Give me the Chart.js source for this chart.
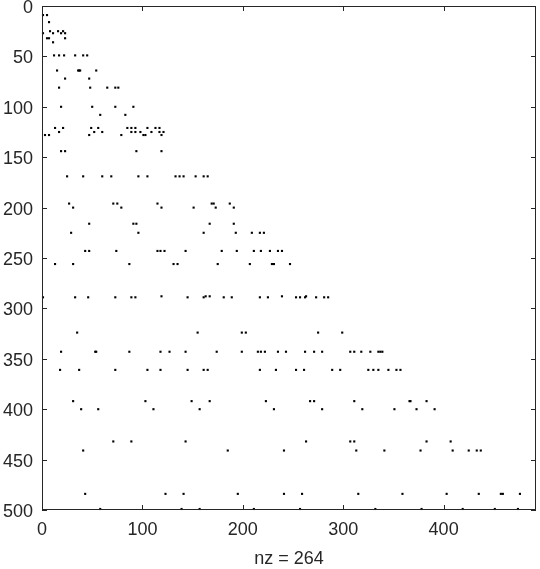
<!DOCTYPE html>
<html>
<head>
<meta charset="utf-8">
<script src="https://cdn.jsdelivr.net/npm/chart.js@4.4.1/dist/chart.umd.min.js"></script>
<style>
  html, body { margin: 0; padding: 0; background: #fff; }
  #wrap { width: 540px; height: 569px; }
</style>
</head>
<body>
<div id="wrap"><canvas id="spy" width="540" height="569"></canvas></div>
<script>
// axis limits (spy plot: rows go down)
const xMax = 492;
const yMax = 500;
const xTickValues = [0, 100, 200, 300, 400];
const yTickValues = [0, 50, 100, 150, 200, 250, 300, 350, 400, 450, 500];
const nzLabel = 'nz = 264';

// nonzero pattern
const rowIndex = [9, 16, 25, 27, 32, 36, 49, 64, 72, 81, 100, 108, 121, 125, 128, 144, 169,
  196, 200, 216, 225, 243, 256, 288, 289, 324, 343, 361, 392, 400, 432, 441, 484, 499];
const colsInRow = [
  [1, 5],
  [7],
  [8, 16, 21],
  [1, 11, 19, 23],
  [5, 7, 23],
  [11],
  [12, 17, 22, 33, 41, 45],
  [15, 36, 37, 38, 54],
  [23, 47],
  [17, 48, 65, 73, 76],
  [19, 50, 73, 91],
  [58, 83],
  [13, 21, 49, 56, 85, 89, 93, 105, 113, 117],
  [17, 52, 60, 89, 93, 98, 109, 117, 121],
  [3, 7, 47, 79, 101, 103, 119],
  [19, 23, 94, 119],
  [25, 41, 60, 69, 96, 105, 133, 137, 141, 153, 161, 165],
  [27, 71, 75, 115, 169, 171, 187],
  [31, 79, 119, 151, 173, 191],
  [47, 91, 94, 167, 191],
  [29, 96, 161, 193, 209, 217, 221],
  [43, 47, 74, 115, 118, 122, 143, 179, 194, 211, 218, 227, 235, 239],
  [13, 31, 87, 131, 135, 175, 207, 229, 231, 247],
  [119, 163, 167, 239, 263],
  [1, 33, 46, 73, 89, 93, 145, 161, 181, 189, 217, 225, 253, 257, 262, 273, 281, 285],
  [35, 155, 199, 203, 275, 299],
  [19, 53, 54, 87, 118, 127, 143, 174, 199, 215, 218, 222, 235, 243, 262, 271, 279, 307, 311, 318, 327, 335, 337, 339],
  [18, 37, 73, 105, 118, 145, 161, 165, 217, 233, 253, 261, 289, 297, 325, 330, 335, 345, 353, 357],
  [31, 103, 149, 167, 223, 267, 271, 311, 366, 367, 383],
  [39, 56, 111, 157, 231, 279, 319, 351, 373, 391],
  [71, 89, 143, 263, 307, 311, 383, 407],
  [41, 185, 241, 313, 341, 377, 409, 425, 433, 437],
  [43, 123, 141, 195, 241, 259, 315, 359, 403, 435, 457, 459, 476],
  [58, 139, 157, 211, 257, 332, 378, 419, 451, 474]
];

const axisColor = '#262626';
const fontFamily = '"Liberation Sans", Arial, Helvetica, sans-serif';

const points = [];
rowIndex.forEach((r, i) => {
  colsInRow[i].forEach(c => points.push({ x: c, y: r }));
});

// box round the plot and inward ticks on all four sides, like matlab
const spyFrame = {
  id: 'spyFrame',
  afterDraw(chart) {
    const { ctx, chartArea: a, scales } = chart;
    const len = 5;
    ctx.save();
    ctx.strokeStyle = axisColor;
    ctx.lineWidth = 1;
    ctx.beginPath();
    xTickValues.forEach(v => {
      const px = Math.round(scales.x.getPixelForValue(v)) + 0.5;
      ctx.moveTo(px, a.bottom); ctx.lineTo(px, a.bottom - len);
      ctx.moveTo(px, a.top); ctx.lineTo(px, a.top + len);
    });
    yTickValues.forEach(v => {
      const py = Math.round(scales.y.getPixelForValue(v)) + 0.5;
      ctx.moveTo(a.left, py); ctx.lineTo(a.left + len, py);
      ctx.moveTo(a.right, py); ctx.lineTo(a.right - len, py);
    });
    ctx.stroke();
    ctx.strokeRect(a.left + 0.5, a.top + 0.5, a.right - a.left - 1, a.bottom - a.top - 1);
    ctx.restore();
  }
};

new Chart(document.getElementById('spy'), {
  type: 'scatter',
  data: {
    datasets: [{
      data: points,
      backgroundColor: '#000',
      borderWidth: 0,
      pointStyle: 'rect',
      pointRadius: 1.5,
      clip: false
    }]
  },
  options: {
    responsive: false,
    animation: false,
    devicePixelRatio: 1,
    layout: { padding: { top: 6, right: 3, left: 0, bottom: 0 } },
    plugins: { legend: { display: false }, tooltip: { enabled: false } },
    scales: {
      x: {
        type: 'linear',
        position: 'bottom',
        min: 0,
        max: xMax,
        grid: { display: false, drawTicks: false },
        border: { display: false },
        afterBuildTicks: s => { s.ticks = xTickValues.map(v => ({ value: v })); },
        afterFit: s => { s.height = 59; s.paddingLeft = 0; s.paddingRight = 0; },
        ticks: {
          color: axisColor,
          padding: 9,
          maxRotation: 0,
          font: { family: fontFamily, size: 18 }
        },
        title: {
          display: true,
          text: nzLabel,
          color: axisColor,
          padding: { top: 0, bottom: -1 },
          font: { family: fontFamily, size: 18 }
        }
      },
      y: {
        type: 'linear',
        reverse: true,
        min: 0,
        max: yMax,
        grid: { display: false, drawTicks: false },
        border: { display: false },
        afterBuildTicks: s => { s.ticks = yTickValues.map(v => ({ value: v })); },
        afterFit: s => { s.width = 42; s.paddingTop = 0; s.paddingBottom = 0; },
        ticks: {
          color: axisColor,
          padding: 9,
          labelOffset: 2,
          font: { family: fontFamily, size: 18 }
        }
      }
    }
  },
  plugins: [spyFrame]
});
</script>
</body>
</html>
